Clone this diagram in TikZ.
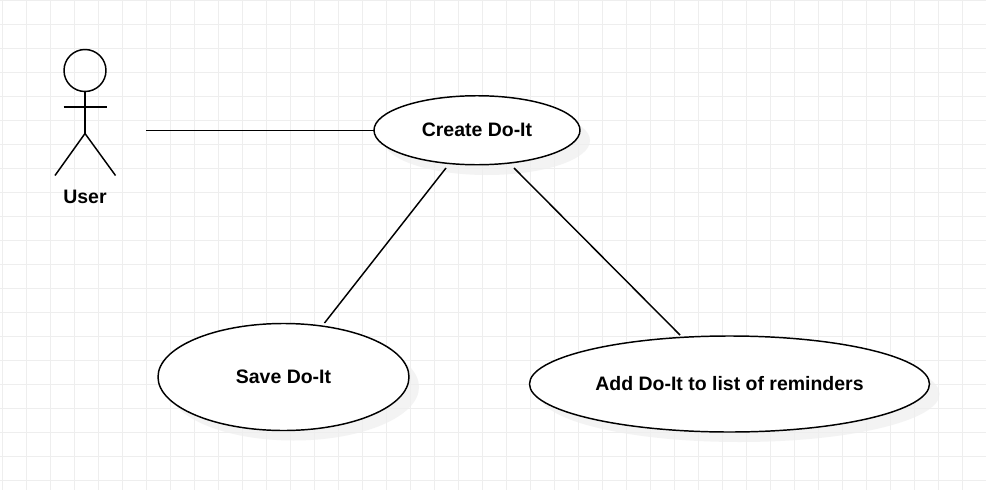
\documentclass[tikz,border=0pt]{standalone}
\usepackage{fontspec}
\setmainfont{Liberation Sans}
\usetikzlibrary{shapes.geometric}
\definecolor{shadowc}{HTML}{F3F3F3}
\definecolor{gridc}{HTML}{EEEEEE}
\tikzset{
  usecase/.style={ellipse,draw=black,line width=1.1pt,fill=white,inner sep=0pt,outer sep=0pt,
    font=\fontsize{14.6}{17}\selectfont\bfseries},
  shadowfill/.style={fill=shadowc,draw=none},
  link/.style={draw=black,line width=1.1pt},
  actorline/.style={draw=black,line width=1.1pt},
  gridline/.style={draw=gridc,line width=0.75pt},
  actorhead/.style={circle,draw=black,line width=1.1pt,inner sep=0pt,outer sep=0pt,minimum size=31.5pt},
  actorlabel/.style={font=\fontsize{14.6}{17}\selectfont\bfseries,inner sep=0pt}
}
\begin{document}
\begin{tikzpicture}[x=0.75pt,y=-0.75pt]
\useasboundingbox (0,0) rectangle (986,493);
\fill[white] (0,0) rectangle (986,493);
% shadows
\fill[shadowfill] (487,140.5) ellipse [x radius=103,y radius=34.5];
\fill[shadowfill] (293.5,387) ellipse [x radius=125.5,y radius=53.5];
\fill[shadowfill] (739.5,394) ellipse [x radius=200,y radius=48];
% grid
\foreach \i in {0,...,40} {\draw[gridline] ({2.5+24*\i},0) -- ({2.5+24*\i},490);}
\foreach \j in {0,...,20} {\draw[gridline] (0,{0.5+24*\j}) -- (986,{0.5+24*\j});}
% actor
\node[actorhead] (head) at (85,70.5) {};
\coordinate (hip) at (85,133.5);
\coordinate (armL) at (63.5,107);
\coordinate (armR) at (107,107);
\coordinate (footL) at (55,175.5);
\coordinate (footR) at (115.5,175.5);
\draw[actorline] (head.south) -- (hip);
\draw[actorline] (armL) -- (armR);
\draw[actorline] (footL) -- (hip) -- (footR);
\node[actorlabel] (user) at (85,196.5) {User};
% use cases
\node[usecase,minimum width=154.5pt,minimum height=51.75pt] (create) at (477,130.25) {\raisebox{-0.75pt}{Create Do-It}};
\node[usecase,minimum width=188.25pt,minimum height=80.25pt] (save) at (283.5,377) {\raisebox{-1.25pt}{Save Do-It}};
\node[usecase,minimum width=300pt,minimum height=72pt] (add) at (729.5,384) {\raisebox{-0.5pt}{Add Do-It to list of reminders}};
% connectors
\coordinate (userEnd) at (146,130.25);
\coordinate (c1) at (446,168);
\coordinate (s1) at (324.5,323);
\coordinate (c2) at (514,168);
\coordinate (a1) at (680,335);
\draw[link] (userEnd) -- (create.west);
\draw[link] (c1) -- (s1);
\draw[link] (c2) -- (a1);
\end{tikzpicture}
\end{document}
